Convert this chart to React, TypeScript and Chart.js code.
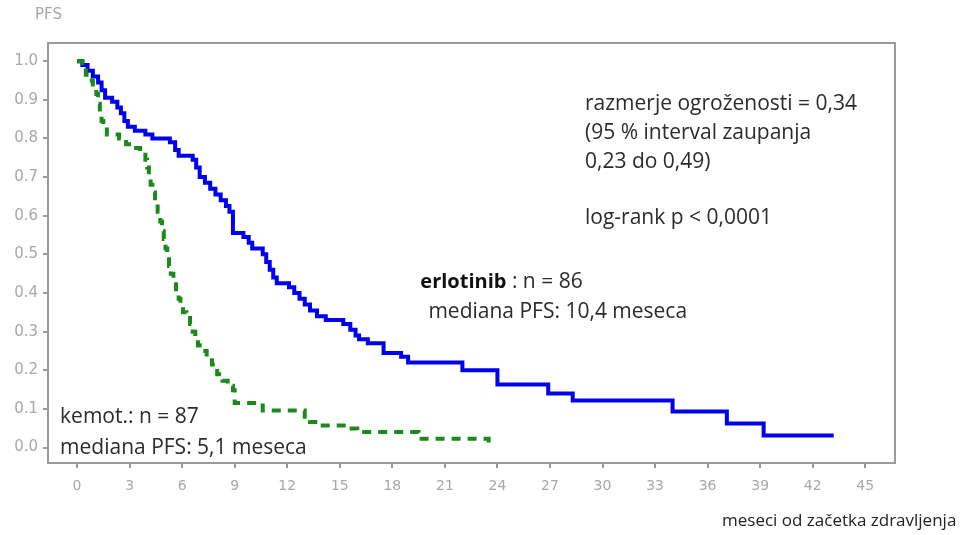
import React, { useEffect, useRef } from "react";
import { Chart, registerables } from "chart.js";

Chart.register(...registerables);

// Kaplan–Meier PFS data (months, survival probability)
const erlotinibTimes = [0, 0.3, 0.6, 0.9, 1.2, 1.4, 1.6, 2.0, 2.3, 2.5, 2.7, 2.9, 3.3, 3.9, 4.3, 5.3, 5.6, 5.8, 6.6, 6.8, 7.0, 7.3, 7.6, 7.9, 8.2, 8.5, 8.7, 8.9, 9.5, 9.8, 10.0, 10.6, 10.8, 11.0, 11.2, 11.4, 12.1, 12.4, 12.7, 13.0, 13.3, 13.7, 14.2, 15.2, 15.6, 15.9, 16.1, 16.6, 17.5, 18.5, 18.9, 22.0, 24.0, 26.9, 28.3, 34.0, 37.1, 39.2, 43.2];
const erlotinibPFS = [1.0, 0.99, 0.975, 0.96, 0.945, 0.925, 0.905, 0.895, 0.88, 0.865, 0.845, 0.83, 0.82, 0.81, 0.8, 0.79, 0.77, 0.755, 0.745, 0.725, 0.7, 0.685, 0.67, 0.655, 0.64, 0.625, 0.61, 0.555, 0.545, 0.53, 0.515, 0.5, 0.48, 0.46, 0.44, 0.425, 0.415, 0.4, 0.385, 0.37, 0.355, 0.34, 0.33, 0.32, 0.305, 0.29, 0.28, 0.27, 0.245, 0.235, 0.22, 0.2, 0.163, 0.14, 0.122, 0.093, 0.062, 0.031, 0.031];

const kemotTimes = [0, 0.3, 0.5, 0.7, 0.9, 1.1, 1.2, 1.3, 1.4, 1.5, 1.7, 2.4, 2.8, 3.2, 3.6, 3.9, 4.0, 4.1, 4.2, 4.3, 4.45, 4.6, 4.75, 4.85, 4.95, 5.05, 5.15, 5.25, 5.35, 5.5, 5.65, 5.8, 5.9, 6.05, 6.25, 6.45, 6.6, 6.75, 6.9, 7.0, 7.4, 7.7, 8.0, 8.3, 8.6, 8.9, 9.0, 10.6, 13.0, 13.3, 13.6, 15.4, 16.0, 19.5, 23.5];
const kemotPFS = [1.0, 0.985, 0.965, 0.95, 0.93, 0.915, 0.89, 0.865, 0.845, 0.83, 0.81, 0.8, 0.785, 0.775, 0.765, 0.745, 0.725, 0.7, 0.68, 0.66, 0.635, 0.61, 0.585, 0.56, 0.54, 0.515, 0.495, 0.47, 0.45, 0.43, 0.41, 0.385, 0.37, 0.35, 0.335, 0.32, 0.3, 0.28, 0.265, 0.25, 0.235, 0.215, 0.19, 0.173, 0.16, 0.148, 0.115, 0.096, 0.08, 0.066, 0.057, 0.049, 0.04, 0.023, 0.005];

const xTicks = [0, 3, 6, 9, 12, 15, 18, 21, 24, 27, 30, 33, 36, 39, 42, 45];
const yTicks = [0, 0.1, 0.2, 0.3, 0.4, 0.5, 0.6, 0.7, 0.8, 0.9, 1.0];

const yAxisTitle = "PFS";
const xAxisTitle = "meseci od začetka zdravljenja";
const statsLines = ["razmerje ogroženosti = 0,34", "(95 % interval zaupanja", "0,23 do 0,49)", "", "log-rank p < 0,0001"];
const erlotinibName = "erlotinib";
const erlotinibN = " : n = 86";
const erlotinibMedian = "mediana PFS: 10,4 meseca";
const kemotLines = ["kemot.: n = 87", "mediana PFS: 5,1 meseca"];

const TEXT_FONT = "'Open Sans', Lato, sans-serif";

const annotationPlugin = {
  id: "kmAnnotations",
  beforeDatasetsDraw(chart: any) {
    const { ctx, chartArea } = chart;
    ctx.save();
    ctx.strokeStyle = "#9a9a9a";
    ctx.lineWidth = 2;
    ctx.strokeRect(chartArea.left, chartArea.top, chartArea.right - chartArea.left, chartArea.bottom - chartArea.top);
    ctx.restore();
  },
  afterDraw(chart: any) {
    const { ctx } = chart;
    const xs = chart.scales.x;
    const ys = chart.scales.y;
    ctx.save();
    ctx.textBaseline = "middle";
    ctx.textAlign = "left";

    // stats block
    ctx.fillStyle = "#2b2b2b";
    ctx.font = `21px ${TEXT_FONT}`;
    const sx = xs.getPixelForValue(29.0);
    const sy0 = ys.getPixelForValue(0.89);
    const step = ys.getPixelForValue(0.894) - ys.getPixelForValue(0.97);
    statsLines.forEach((t, i) => {
      if (t) ctx.fillText(t, sx, sy0 + i * step - (i === 4 ? step * 0.1 : 0));
    });

    // erlotinib label
    const ex = xs.getPixelForValue(19.6);
    const ey = ys.getPixelForValue(0.428);
    ctx.font = `bold 20px ${TEXT_FONT}`;
    ctx.fillStyle = "#111";
    ctx.fillText(erlotinibName, ex, ey);
    const w = ctx.measureText(erlotinibName).width;
    ctx.font = `21px ${TEXT_FONT}`;
    ctx.fillStyle = "#2b2b2b";
    ctx.fillText(erlotinibN, ex + w, ey);
    ctx.fillText(erlotinibMedian, xs.getPixelForValue(20.06), ys.getPixelForValue(0.35));

    // kemot label
    ctx.font = `21px ${TEXT_FONT}`;
    ctx.fillStyle = "#2b2b2b";
    ctx.fillText(kemotLines[0], xs.getPixelForValue(-0.97), ys.getPixelForValue(0.078));
    ctx.fillText(kemotLines[1], xs.getPixelForValue(-0.97), ys.getPixelForValue(0.0));

    // axis titles
    ctx.font = "15px 'DejaVu Sans', sans-serif";
    ctx.fillStyle = "#a8a8a8";
    ctx.fillText(yAxisTitle, 35, 15);
    ctx.font = `17px ${TEXT_FONT}`;
    ctx.fillStyle = "#222";
    ctx.fillText(xAxisTitle, 722, 521);
    ctx.restore();
  },
};

export default function App() {
  const ref = useRef<HTMLCanvasElement | null>(null);
  useEffect(() => {
    if (!ref.current) return;
    const chart = new Chart(ref.current, {
      type: "line",
      data: {
        datasets: [
          {
            label: "kemot.",
            data: kemotTimes.map((t, i) => ({ x: t, y: kemotPFS[i] })),
            borderColor: "#1b8a1b",
            borderWidth: 4,
            borderDash: [9, 7],
            stepped: "before",
            pointRadius: 0,
            fill: false,
          },
          {
            label: "erlotinib",
            data: erlotinibTimes.map((t, i) => ({ x: t, y: erlotinibPFS[i] })),
            borderColor: "#0000f0",
            borderWidth: 4,
            stepped: "before",
            pointRadius: 0,
            fill: false,
          },
        ],
      },
      options: {
        responsive: false,
        animation: false,
        layout: { padding: { top: 43, right: 67, left: 0, bottom: 0 } },
        plugins: { legend: { display: false }, tooltip: { enabled: false }, title: { display: false } },
        scales: {
          x: {
            type: "linear",
            min: -1.66,
            max: 46.7,
            afterFit: (s: any) => { s.height = 72; },
            afterBuildTicks: (s: any) => { s.ticks = xTicks.map((v) => ({ value: v })); },
            grid: { drawOnChartArea: false, drawTicks: true, tickLength: 5, color: "#999", lineWidth: 2 },
            border: { display: false },
            ticks: {
              padding: 10,
              color: "#a8a8a8",
              font: { family: "'DejaVu Sans', sans-serif", size: 14 },
              callback: (v: any) => String(v),
              maxRotation: 0,
            },
          },
          y: {
            type: "linear",
            min: -0.04,
            max: 1.047,
            afterFit: (s: any) => { s.width = 48; },
            afterBuildTicks: (s: any) => { s.ticks = yTicks.map((v) => ({ value: v })); },
            grid: { drawOnChartArea: false, drawTicks: true, tickLength: 5, color: "#999", lineWidth: 2 },
            border: { display: false },
            ticks: {
              padding: 5,
              color: "#a8a8a8",
              font: { family: "'DejaVu Sans', sans-serif", size: 15 },
              callback: (v: any) => Number(v).toFixed(1),
            },
          },
        },
      },
      plugins: [annotationPlugin],
    });
    return () => chart.destroy();
  }, []);
  return (
    <div style={{ position: "absolute", left: 0, top: 0, width: 962, height: 535, background: "#fff" }}>
      <canvas ref={ref} width={962} height={535} />
    </div>
  );
}
